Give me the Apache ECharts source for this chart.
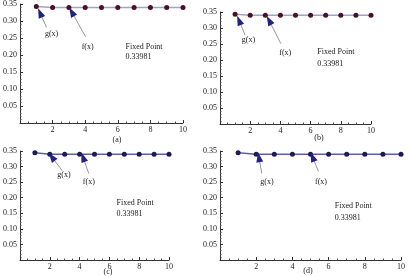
<!DOCTYPE html>
<html>
<head>
<meta charset="utf-8">
<script src="https://cdn.jsdelivr.net/npm/echarts@6/dist/echarts.min.js"></script>
<style>
  html, body { margin: 0; padding: 0; background: #fff; }
  #chart { width: 408px; height: 277px; }
</style>
</head>
<body>
<div id="chart"></div>
<script>
    // iterations n = 1..10
    var iterations = [1, 2, 3, 4, 5, 6, 7, 8, 9, 10];
    var valuesA = [0.3425, 0.33981, 0.33981, 0.33981, 0.33981, 0.33981, 0.33981, 0.33981, 0.33981, 0.33981];
    var valuesB = [0.3430, 0.33981, 0.33981, 0.33981, 0.33981, 0.33981, 0.33981, 0.33981, 0.33981, 0.33981];
    var valuesC = [0.3440, 0.33981, 0.33981, 0.33981, 0.33981, 0.33981, 0.33981, 0.33981, 0.33981, 0.33981];
    var valuesD = [0.3440, 0.33981, 0.33981, 0.33981, 0.33981, 0.33981, 0.33981, 0.33981, 0.33981, 0.33981];
    var xTicks = [2, 4, 6, 8, 10];
    var yTicks = [0.05, 0.10, 0.15, 0.20, 0.25, 0.30, 0.35];
    var captions = ['(a)', '(b)', '(c)', '(d)'];

    // arrows: tip / tail in data coords, rot = degrees
    var arrowsA = [{tip: [1.23, 0.324], tail: [1.63, 0.281], rot: 23}, {tip: [3.17, 0.327], tail: [4.02, 0.254], rot: 29}];
    var arrowsB = [{tip: [1.26, 0.324], tail: [1.67, 0.277], rot: 22}, {tip: [3.25, 0.324], tail: [4.03, 0.251], rot: 28}];
    var arrowsC = [{tip: [2.13, 0.331], tail: [2.85, 0.286], rot: 37}, {tip: [4.23, 0.330], tail: [4.62, 0.277], rot: 20}];
    var arrowsD = [{tip: [2.15, 0.330], tail: [2.31, 0.278], rot: 10}, {tip: [5.11, 0.331], tail: [5.44, 0.284], rot: 22}];

    // labels g(x), f(x), fixed point text
    var labelsA = {g: [1.94, 0.263], f: [4.15, 0.225], fp: [6.44, 0.225], val: [6.44, 0.193]};
    var labelsB = {g: [1.89, 0.262], f: [4.32, 0.222], fp: [6.41, 0.225], val: [6.41, 0.189]};
    var labelsC = {g: [2.95, 0.272], f: [4.62, 0.250], fp: [6.45, 0.184], val: [6.45, 0.147]};
    var labelsD = {g: [2.59, 0.252], f: [5.58, 0.252], fp: [6.31, 0.174], val: [6.31, 0.136]};
    var fixedPoint = '0.33981';

    var serif = 'Liberation Serif';

    var grids = [
        {left: 20, top: 3, width: 163, height: 120},
        {left: 220, top: 12, width: 151, height: 112},
        {left: 19, top: 151, width: 150, height: 109},
        {left: 220, top: 151, width: 181, height: 109}
    ];
    var captionPos = [[117, 136], [319, 134], [108, 268], [308, 267]];

    var panels = [
        {values: valuesA, arrows: arrowsA, labels: labelsA, dot: '#4a1024', line: '#9ea3cc'},
        {values: valuesB, arrows: arrowsB, labels: labelsB, dot: '#4a1024', line: '#9ea3cc'},
        {values: valuesC, arrows: arrowsC, labels: labelsC, dot: '#1c1c4e', line: '#5a5fa8'},
        {values: valuesD, arrows: arrowsD, labels: labelsD, dot: '#1c1c4e', line: '#5a5fa8'}
    ];

    function textPoint(coord, text, pos){
        return {
            coord: coord,
            symbol: 'circle',
            symbolSize: 1,
            itemStyle: {color: 'rgba(0,0,0,0)'},
            label: {
                show: true,
                position: pos,
                distance: 0,
                formatter: text,
                fontFamily: serif,
                fontSize: 8,
                color: '#222'
            }
        };
    }

    var option = {
        animation: false,
        backgroundColor: '#fff',
        title: [],
        grid: [],
        xAxis: [],
        yAxis: [],
        series: []
    };

    $each = function(arr, fn){ for(var i = 0; i < arr.length; i++){ fn(arr[i], i); } };

    $each(panels, function(p, i){
        option.grid.push(grids[i]);
        option.title.push({
            text: captions[i],
            left: captionPos[i][0],
            top: captionPos[i][1],
            textAlign: 'center',
            padding: 0,
            textStyle: {fontFamily: serif, fontSize: 8, fontWeight: 'normal', color: '#222'}
        });
        option.xAxis.push({
            type: 'value',
            gridIndex: i,
            min: 0,
            max: 10,
            interval: 2,
            axisLine: {onZero: false, lineStyle: {color: '#333', width: 1}},
            axisTick: {inside: true, length: 3, lineStyle: {color: '#333'}},
            minorTick: {show: true, splitNumber: 4, length: 1.5, lineStyle: {color: '#555'}},
            splitLine: {show: false},
            axisLabel: {
                fontFamily: serif, fontSize: 8, color: '#222', margin: 3,
                formatter: function(v){ return xTicks.indexOf(v) > -1 ? String(v) : ''; }
            }
        });
        option.yAxis.push({
            type: 'value',
            gridIndex: i,
            min: 0,
            max: 0.35,
            interval: 0.05,
            axisLine: {show: true, onZero: false, lineStyle: {color: '#333', width: 1}},
            axisTick: {show: true, inside: true, length: 3, lineStyle: {color: '#333'}},
            minorTick: {show: true, splitNumber: 5, length: 1.5, lineStyle: {color: '#555'}},
            splitLine: {show: false},
            axisLabel: {
                fontFamily: serif, fontSize: 8, color: '#222', margin: 3,
                formatter: function(v){
                    var hit = '';
                    $each(yTicks, function(t){ if(Math.abs(t - v) < 1e-6){ hit = t.toFixed(2); } });
                    return hit;
                }
            }
        });

        var pts = [];
        $each(iterations, function(x, k){ pts.push([x, p.values[k]]); });

        var lines = [], heads = [];
        $each(p.arrows, function(a){
            lines.push([{coord: a.tail}, {coord: a.tip}]);
            heads.push({
                coord: a.tip,
                symbol: 'triangle',
                symbolSize: [7, 10],
                symbolRotate: a.rot,
                itemStyle: {color: '#23237e'},
                label: {show: false}
            });
        });
        heads.push(textPoint(p.labels.g, 'g(x)', 'inside'));
        heads.push(textPoint(p.labels.f, 'f(x)', 'inside'));
        heads.push(textPoint(p.labels.fp, 'Fixed Point', 'right'));
        heads.push(textPoint(p.labels.val, fixedPoint, 'right'));

        option.series.push({
            type: 'line',
            xAxisIndex: i,
            yAxisIndex: i,
            data: pts,
            symbol: 'circle',
            symbolSize: 5,
            itemStyle: {color: p.dot},
            lineStyle: {color: p.line, width: 1.5},
            markLine: {
                silent: true,
                symbol: ['none', 'none'],
                label: {show: false},
                lineStyle: {color: '#999', width: 1, type: 'solid'},
                data: lines
            },
            markPoint: {
                silent: true,
                data: heads
            }
        });
    });

    var myChart = echarts.init(document.getElementById('chart'));
    myChart.setOption(option);
</script>
</body>
</html>
